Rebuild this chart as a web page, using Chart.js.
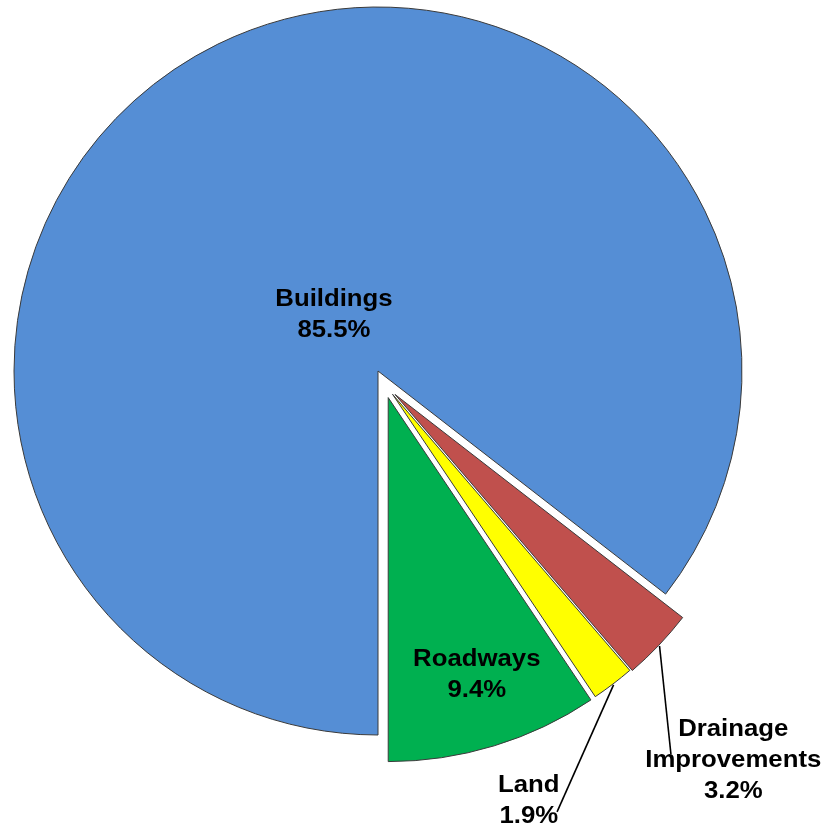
<!DOCTYPE html>
<html>
<head>
<meta charset="utf-8">
<script src="https://cdn.jsdelivr.net/npm/chart.js@4/dist/chart.umd.min.js"></script>
<style>
  html, body { margin: 0; padding: 0; background: #fff; }
  canvas { display: block; }
</style>
</head>
<body>
<canvas id="chart" width="840" height="830"></canvas>
<script>
const categories = ['Buildings', 'Drainage Improvements', 'Land', 'Roadways'];
const shares = [85.5, 3.2, 1.9, 9.4];
const labelLines = [['Buildings'], ['Drainage', 'Improvements'], ['Land'], ['Roadways']];
const colors = ['#558ED5', '#C0504D', '#FFFF00', '#00B050'];

// pulled-out slices: [distance px, direction deg clockwise from 12 o'clock]
const explode = [null, [29, 144], [27.5, 148], [28.5, 159]];
// centre of each label block, polar from the slice tip: [fraction of radius, deg]
const labelPos = [[0.2, 322.8], [1.365, 137.1], [1.173, 161.4], [0.796, 162.2]];
// where the leader line ends for the outside labels
const leaderEnd = [null, [1.245, 142.5], [1.233, 158.5], null];

function polar(cx, cy, r, deg) {
	const a = deg * Math.PI / 180;
	return { x: cx + r * Math.sin(a), y: cy - r * Math.cos(a) };
}

const explodePlugin = {
	id: 'explode',
	afterDatasetsUpdate(chart) {
		chart.getDatasetMeta(0).data.forEach((arc, i) => {
			const e = explode[i];
			if (!e) return;
			const p = polar(arc.x, arc.y, e[0], e[1]);
			arc.x = p.x;
			arc.y = p.y;
		});
	}
};

const labelPlugin = {
	id: 'sliceLabels',
	afterDatasetsDraw(chart) {
		const ctx = chart.ctx;
		const arcs = chart.getDatasetMeta(0).data;
		const size = 23, lh = 31, cap = size * 0.716;
		ctx.save();
		ctx.font = 'bold ' + size + 'px "Liberation Sans", Arial, sans-serif';
		ctx.fillStyle = '#000';
		ctx.strokeStyle = '#000';
		ctx.lineWidth = 1.6;
		ctx.textAlign = 'center';
		ctx.textBaseline = 'alphabetic';
		arcs.forEach((arc, i) => {
			const r = arc.outerRadius;
			if (leaderEnd[i]) {
				const mid = (arc.startAngle + arc.endAngle) / 2;
				const end = polar(arc.x, arc.y, r * leaderEnd[i][0], leaderEnd[i][1]);
				ctx.beginPath();
				ctx.moveTo(arc.x + (r + 1) * Math.cos(mid), arc.y + (r + 1) * Math.sin(mid));
				ctx.lineTo(end.x, end.y);
				ctx.stroke();
			}
			const lines = labelLines[i].concat([shares[i].toFixed(1) + '%']);
			const c = polar(arc.x, arc.y, r * labelPos[i][0], labelPos[i][1]);
			const h = cap + (lines.length - 1) * lh;
			lines.forEach((t, k) => {
				ctx.save();
				ctx.translate(c.x, c.y - h / 2 + cap + k * lh);
				ctx.scale(1.12, 1);
				ctx.fillText(t, 0, 0);
				ctx.restore();
			});
		});
		ctx.restore();
	}
};

new Chart(document.getElementById('chart'), {
	type: 'pie',
	plugins: [explodePlugin, labelPlugin],
	data: {
		labels: categories,
		datasets: [{
			data: shares,
			backgroundColor: colors,
			borderColor: '#3a3a3a',
			borderWidth: 1,
			radius: 364,
			clip: false
		}]
	},
	options: {
		responsive: false,
		animation: false,
		events: [],
		rotation: 180,
		radius: 364,
		layout: { padding: { left: 0, right: 84, top: 0, bottom: 88 } },
		plugins: {
			legend: { display: false },
			tooltip: { enabled: false }
		}
	}
});
</script>
</body>
</html>
